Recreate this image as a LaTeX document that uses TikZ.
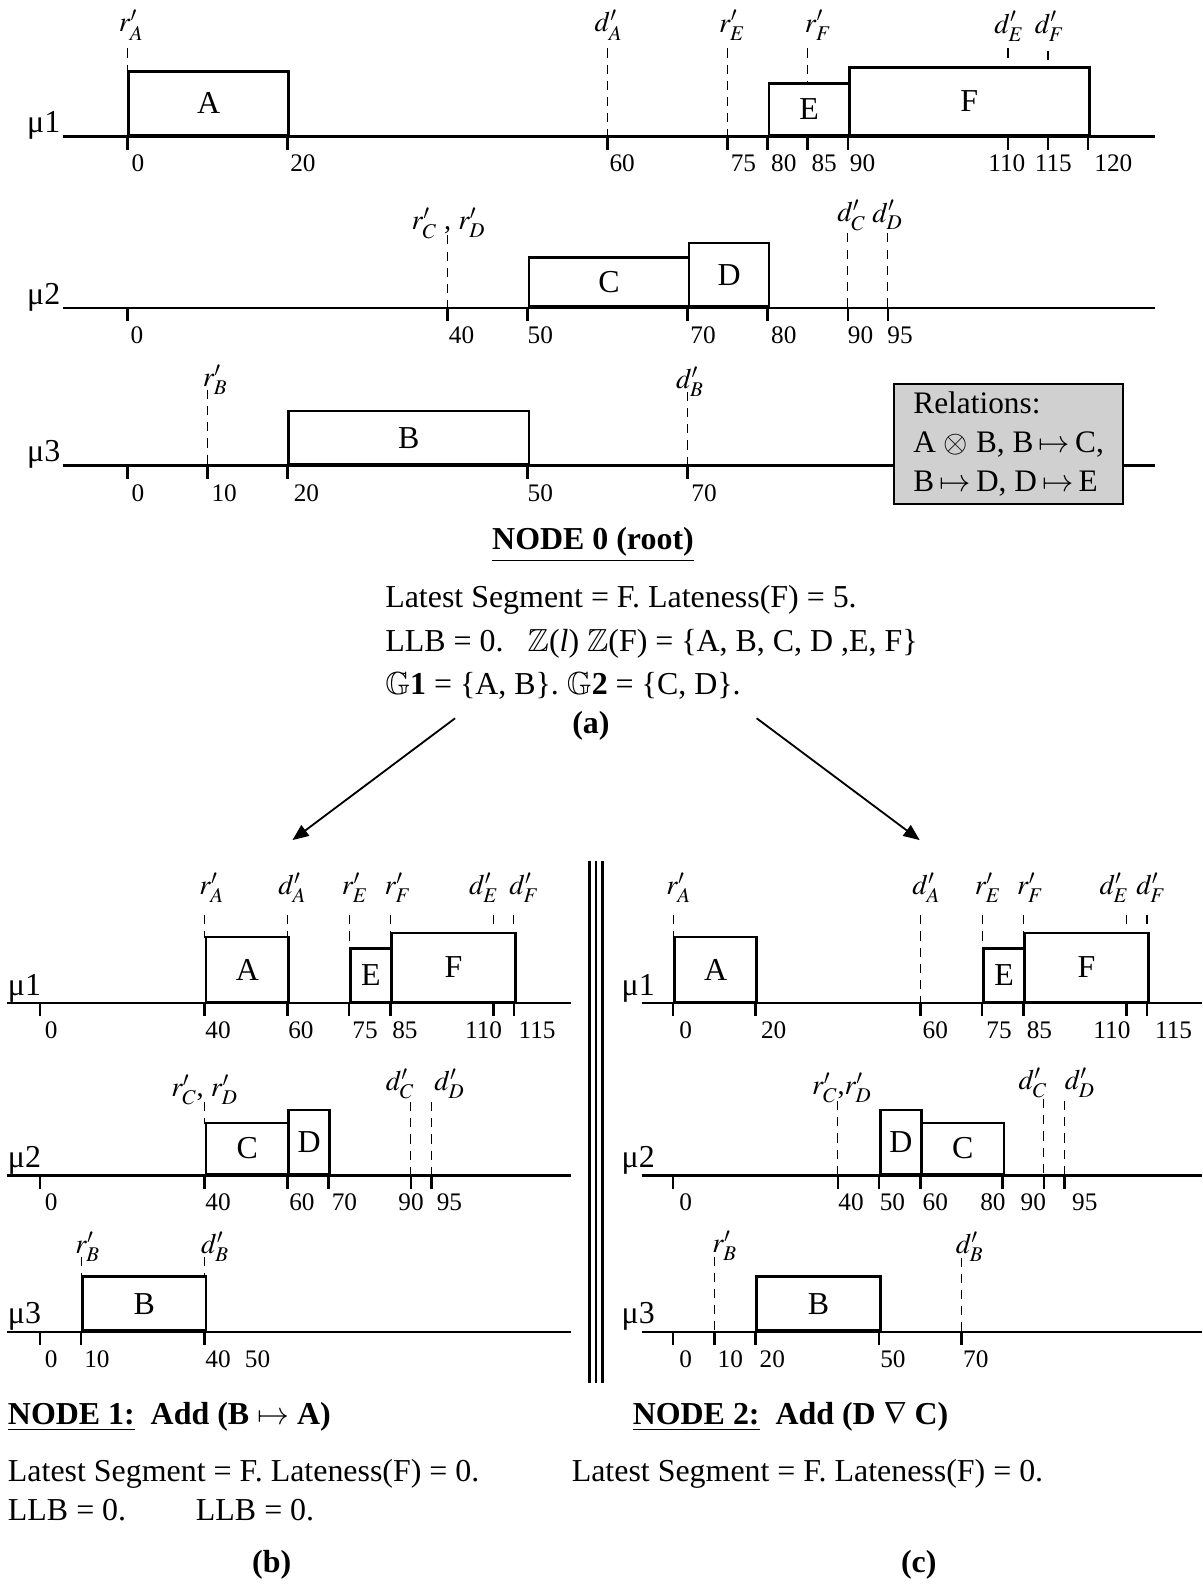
\documentclass[tikz,border=0pt]{standalone}
\usepackage{amssymb}
\usepackage{mathptmx}
\usepackage{fontspec}
\setmainfont{Liberation Serif}
\usetikzlibrary{arrows.meta}
\definecolor{RelFill}{HTML}{D0D0D0}
\newcommand{\tmk}[5]{% name, tick x, axis y, label x, label
  \draw[tickln] (#2,#3) -- (#2,#3+13);
  \node[tnum] (#1) at (#4,#3+18) {#5};}

\begin{document}
\begin{tikzpicture}[x=0.5pt,y=-0.5pt,
  every node/.style={font=\fontsize{15.8}{20}\selectfont},
  axisln/.style={line width=1.3pt},
  tickln/.style={line width=1.3pt},
  guide/.style={line width=0.5pt, dash pattern=on 4.5pt off 3.5pt},
  seg/.style={draw, line width=1.3pt, fill=white, inner sep=0pt, anchor=south west},
  tnum/.style={font=\fontsize{12.5}{14}\selectfont, anchor=north west, inner sep=0pt},
  glab/.style={font=\fontsize{14}{16}\selectfont, inner sep=0pt},
  mlab/.style={anchor=base west, inner sep=0pt},
  hdr/.style={font=\fontsize{15.8}{20}\selectfont\bfseries, inner sep=0pt},
  body/.style={anchor=base west, inner sep=0pt},
  link/.style={line width=0.9pt, -{Triangle[length=8pt,width=6.5pt]}},
  sepln/.style={line width=1.4pt}]
  \useasboundingbox (0,0) rectangle (1190,1568);

  % ---- node 0 (root), machine mu1
  \draw[guide] (126,48) -- (126,135);
  \draw[guide] (601.5,48) -- (601.5,135);
  \draw[guide] (720.4,48) -- (720.4,135);
  \draw[guide] (799.6,48) -- (799.6,84);
  \draw[guide] (997.8,48) -- (997.8,58);
  \draw[guide] (1037.4,50) -- (1037.4,60);
  \draw[axisln] (62,135) -- (1143,135);
  \node[seg, minimum width=79.25pt, minimum height=31.5pt] (A0) at (126,135) {A};
  \node[seg, minimum width=39.63pt, minimum height=25.5pt] (E0) at (760,135) {E};
  \node[seg, minimum width=118.88pt, minimum height=33.5pt] (F0) at (839.3,135) {F};
  \node[mlab] (m01) at (26.5,131) {μ1};
  \node[glab] (rA0) at (130,25) {$r'_A$};
  \node[glab] (dA0) at (602.5,25) {$d'_A$};
  \node[glab] (rE0) at (725,25) {$r'_E$};
  \node[glab] (rF0) at (810,25) {$r'_F$};
  \node[glab] (dE0) at (999,26) {$d'_E$};
  \node[glab] (dF0) at (1039,26) {$d'_F$};
  \tmk{t010}{126}{135}{130}{0}
  \tmk{t0120}{284.5}{135}{287}{20}
  \tmk{t0160}{601.5}{135}{603}{60}
  \tmk{t0175}{720.4}{135}{723}{75}
  \tmk{t0180}{760}{135}{763}{80}
  \tmk{t0185}{799.6}{135}{803}{85}
  \tmk{t0190}{839.3}{135}{841}{90}
  \tmk{t01110}{997.8}{135}{978}{110}
  \tmk{t01115}{1037.4}{135}{1024}{115}
  \tmk{t01120}{1077}{135}{1083}{120}

  % ---- node 0, machine mu2
  \draw[guide] (443,233) -- (443,305);
  \draw[guide] (839.3,231) -- (839.3,305);
  \draw[guide] (878.9,231) -- (878.9,305);
  \draw[axisln] (62,305) -- (1143,305);
  \node[seg, minimum width=79.25pt, minimum height=24.5pt] (C0) at (522.3,305) {C};
  \node[seg, minimum width=39.63pt, minimum height=31.5pt] (D0) at (680.8,305) {D};
  \node[mlab] (m02) at (26.5,301) {μ2};
  \node[glab] (rCD0) at (444,221) {$r'_C$ , $r'_D$};
  \node[glab] (dC0) at (843,213) {$d'_C$};
  \node[glab] (dD0) at (878.6,213) {$d'_D$};
  \tmk{t020}{126}{305}{129}{0}
  \tmk{t0240}{443}{305}{444}{40}
  \tmk{t0250}{522.3}{305}{522}{50}
  \tmk{t0270}{680.8}{305}{683}{70}
  \tmk{t0280}{760}{305}{763}{80}
  \tmk{t0290}{839.3}{305}{839}{90}
  \tmk{t0295}{878.9}{305}{878}{95}

  % ---- node 0, machine mu3
  \draw[guide] (205.3,386) -- (205.3,461);
  \draw[guide] (680.8,388) -- (680.8,461);
  \draw[axisln] (62,461) -- (1143,461);
  \node[seg, minimum width=118.88pt, minimum height=26.5pt] (B0) at (284.5,461) {B};
  \node[mlab] (m03) at (26.5,457) {μ3};
  \node[glab] (rB0) at (213,376) {$r'_B$};
  \node[glab] (dB0) at (683,378) {$d'_B$};
  \tmk{t030}{126}{461}{130}{0}
  \tmk{t0310}{205.3}{461}{209}{10}
  \tmk{t0320}{284.5}{461}{290.5}{20}
  \tmk{t0350}{522.3}{461}{522}{50}
  \tmk{t0370}{680.8}{461}{684}{70}
  \node[draw, line width=1pt, fill=RelFill, anchor=north west, align=left,
    minimum width=113.5pt, minimum height=59.5pt, inner xsep=4pt,
    font=\fontsize{15.5}{19.5}\selectfont] (rel) at (884,379)
    {Relations:\\A $\otimes$ B, B\,$\mapsto$\,C,\\B\,$\mapsto$\,D, D\,$\mapsto$\,E};

  % ---- node 0 text
  \node[hdr, anchor=base] (hd0) at (587,544) {\underline{NODE 0 (root)}};
  \node[body] (ln1) at (381,601) {Latest Segment = F. Lateness(F) = 5.};
  \node[body] (ln2) at (381,645) {LLB = 0.\hspace{12pt}$\mathbb{Z}$(\textit{l}) $\mathbb{Z}$(F) = \{A, B, C, D ,E, F\}};
  \node[body] (ln3) at (381,687) {$\mathbb{G}$\textbf{1} = \{A, B\}. $\mathbb{G}$\textbf{2} = \{C, D\}.};
  \node[hdr, anchor=base] (capa) at (585,726) {(a)};
  \coordinate (a0L) at (450.5,711);
  \coordinate (b1T) at (289.5,831.6);
  \coordinate (a0R) at (749,711);
  \coordinate (b2T) at (910.4,831.6);
  \draw[link] (a0L) -- (b1T);
  \draw[link] (a0R) -- (b2T);

  % ---- node 1, machine mu1
  \draw[guide] (202.7,906) -- (202.7,929);
  \draw[guide] (284.3,906) -- (284.3,929);
  \draw[guide] (345.5,906) -- (345.5,940);
  \draw[guide] (386.3,906) -- (386.3,925);
  \draw[guide] (488.3,906) -- (488.3,916);
  \draw[guide] (508.7,906) -- (508.7,919);
  \draw[axisln] (7,993) -- (565,993);
  \node[seg, minimum width=40.8pt, minimum height=32pt] (A1) at (202.7,993) {A};
  \node[seg, minimum width=20.4pt, minimum height=26.5pt] (E1) at (345.5,993) {E};
  \node[seg, minimum width=61.2pt, minimum height=34pt] (F1) at (386.3,993) {F};
  \node[mlab] (m11) at (7.5,985) {μ1};
  \node[glab] (rA1) at (209.7,879) {$r'_A$};
  \node[glab] (dA1) at (289.5,879) {$d'_A$};
  \node[glab] (rE1) at (351.5,879) {$r'_E$};
  \node[glab] (rF1) at (394,879) {$r'_F$};
  \node[glab] (dE1) at (479,879) {$d'_E$};
  \node[glab] (dF1) at (519,879) {$d'_F$};
  \tmk{t110}{39.5}{993}{44}{0}
  \tmk{t1140}{202.7}{993}{203}{40}
  \tmk{t1160}{284.3}{993}{285}{60}
  \tmk{t1175}{345.5}{993}{348.5}{75}
  \tmk{t1185}{386.3}{993}{388}{85}
  \tmk{t11110}{488.3}{993}{460}{110}
  \tmk{t11115}{508.7}{993}{513}{115}

  % ---- node 1, machine mu2
  \draw[guide] (202.7,1091) -- (202.7,1113);
  \draw[guide] (406.7,1091) -- (406.7,1163.5);
  \draw[guide] (427.1,1091) -- (427.1,1163.5);
  \draw[axisln] (7,1163.5) -- (565,1163.5);
  \node[seg, minimum width=40.8pt, minimum height=25.25pt] (C1) at (202.7,1163.5) {C};
  \node[seg, minimum width=20.4pt, minimum height=31.75pt] (D1) at (284.3,1163.5) {D};
  \node[mlab] (m12) at (7.5,1155.5) {μ2};
  \node[glab] (rCD1) at (202.6,1079) {$r'_C$, $r'_D$};
  \node[glab] (dC1) at (396,1073) {$d'_C$};
  \node[glab] (dD1) at (445,1073) {$d'_D$};
  \tmk{t120}{39.5}{1163.5}{44}{0}
  \tmk{t1240}{202.7}{1163.5}{203}{40}
  \tmk{t1260}{284.3}{1163.5}{286}{60}
  \tmk{t1270}{325.1}{1163.5}{328}{70}
  \tmk{t1290}{406.7}{1163.5}{394}{90}
  \tmk{t1295}{427.1}{1163.5}{432}{95}

  % ---- node 1, machine mu3
  \draw[guide] (80.3,1244) -- (80.3,1265);
  \draw[guide] (202.7,1244) -- (202.7,1265);
  \draw[axisln] (7,1318.5) -- (565,1318.5);
  \node[seg, minimum width=61.2pt, minimum height=26.75pt] (B1) at (80.3,1318.5) {B};
  \node[mlab] (m13) at (7.5,1310.5) {μ3};
  \node[glab] (rB1) at (87,1234) {$r'_B$};
  \node[glab] (dB1) at (213,1234) {$d'_B$};
  \tmk{t130}{39.5}{1318.5}{44}{0}
  \tmk{t1310}{80.3}{1318.5}{83}{10}
  \tmk{t1340}{202.7}{1318.5}{203}{40}
  \node[tnum] (t1350) at (242,1336.5) {50};

  % ---- separator
  \draw[sepln] (583.5,852) -- (583.5,1369);
  \draw[sepln] (590,852) -- (590,1369);
  \draw[sepln] (596.5,852) -- (596.5,1369);

  % ---- node 2, machine mu1
  \draw[guide] (666.2,906) -- (666.2,929);
  \draw[guide] (911,906) -- (911,993);
  \draw[guide] (972.2,906) -- (972.2,940);
  \draw[guide] (1013,906) -- (1013,925);
  \draw[guide] (1115,906) -- (1115,916);
  \draw[guide] (1135.4,906) -- (1135.4,919);
  \draw[axisln] (636,993) -- (1190,993);
  \node[seg, minimum width=40.8pt, minimum height=32pt] (A2) at (666.2,993) {A};
  \node[seg, minimum width=20.4pt, minimum height=26.5pt] (E2) at (972.2,993) {E};
  \node[seg, minimum width=61.2pt, minimum height=34pt] (F2) at (1013,993) {F};
  \node[mlab] (m21) at (615,985) {μ1};
  \node[glab] (rA2) at (672,879) {$r'_A$};
  \node[glab] (dA2) at (917,879) {$d'_A$};
  \node[glab] (rE2) at (978,879) {$r'_E$};
  \node[glab] (rF2) at (1020,879) {$r'_F$};
  \node[glab] (dE2) at (1103,879) {$d'_E$};
  \node[glab] (dF2) at (1139.5,879) {$d'_F$};
  \tmk{t210}{666.2}{993}{672}{0}
  \tmk{t2120}{747.8}{993}{753}{20}
  \tmk{t2160}{911}{993}{913}{60}
  \tmk{t2175}{972.2}{993}{976}{75}
  \tmk{t2185}{1013}{993}{1016}{85}
  \tmk{t21110}{1115}{993}{1082}{110}
  \tmk{t21115}{1135.4}{993}{1143}{115}

  % ---- node 2, machine mu2
  \draw[guide] (829.4,1090) -- (829.4,1163.5);
  \draw[guide] (1033.4,1088) -- (1033.4,1163.5);
  \draw[guide] (1053.8,1090) -- (1053.8,1163.5);
  \draw[axisln] (636,1163.5) -- (1190,1163.5);
  \node[seg, minimum width=20.4pt, minimum height=31.75pt] (D2) at (870.2,1163.5) {D};
  \node[seg, minimum width=40.8pt, minimum height=25.25pt] (C2) at (911,1163.5) {C};
  \node[mlab] (m22) at (615,1155.5) {μ2};
  \node[glab] (rCD2) at (833.5,1077) {$r'_C$,$r'_D$};
  \node[glab] (dC2) at (1022.5,1072) {$d'_C$};
  \node[glab] (dD2) at (1069,1072) {$d'_D$};
  \tmk{t220}{666.2}{1163.5}{672}{0}
  \tmk{t2240}{829.4}{1163.5}{829.6}{40}
  \tmk{t2250}{870.2}{1163.5}{870.5}{50}
  \tmk{t2260}{911}{1163.5}{913}{60}
  \tmk{t2280}{992.6}{1163.5}{970}{80}
  \tmk{t2290}{1033.4}{1163.5}{1010}{90}
  \tmk{t2295}{1053.8}{1163.5}{1061}{95}

  % ---- node 2, machine mu3
  \draw[guide] (707,1244) -- (707,1318.5);
  \draw[guide] (951.8,1245) -- (951.8,1318.5);
  \draw[axisln] (636,1318.5) -- (1190,1318.5);
  \node[seg, minimum width=61.2pt, minimum height=26.75pt] (B2) at (747.8,1318.5) {B};
  \node[mlab] (m23) at (615,1310.5) {μ3};
  \node[glab] (rB2) at (717.5,1233) {$r'_B$};
  \node[glab] (dB2) at (960,1234) {$d'_B$};
  \tmk{t230}{666.2}{1318.5}{672}{0}
  \tmk{t2310}{707}{1318.5}{710}{10}
  \tmk{t2320}{747.8}{1318.5}{751.6}{20}
  \tmk{t2350}{870.2}{1318.5}{871}{50}
  \tmk{t2370}{951.8}{1318.5}{953}{70}

  % ---- node 1 / node 2 text
  \node[hdr, anchor=base west] (hd1) at (7.5,1410) {\underline{NODE 1:}\ \ Add (B $\mapsto$ A)};
  \node[hdr, anchor=base west] (hd2) at (626,1410) {\underline{NODE 2:}\ \ Add (D $\nabla$ C)};
  \node[body] (ln4) at (7.5,1467) {Latest Segment = F. Lateness(F) = 0.};
  \node[body] (ln5) at (7.5,1505) {LLB = 0.};
  \node[body] (ln6) at (193.6,1505) {LLB = 0.};
  \node[body] (ln7) at (565.6,1467) {Latest Segment = F. Lateness(F) = 0.};
  \node[hdr, anchor=base] (capb) at (269,1557) {(b)};
  \node[hdr, anchor=base] (capc) at (909.5,1557) {(c)};
\end{tikzpicture}
\end{document}
